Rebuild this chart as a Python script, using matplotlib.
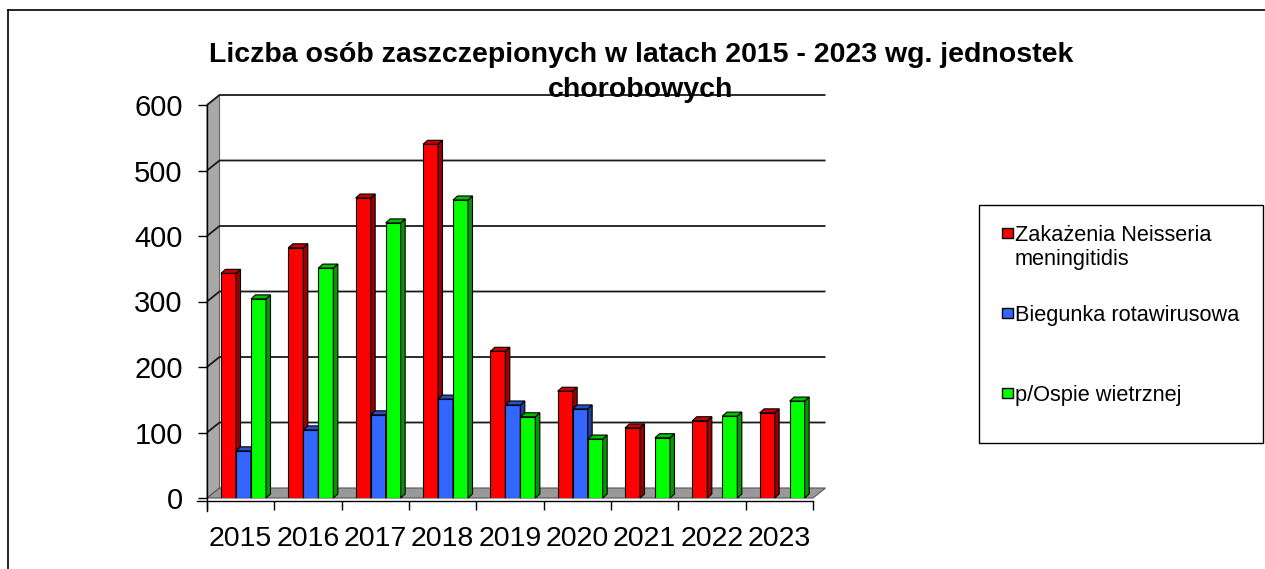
import matplotlib.pyplot as plt
from matplotlib.patches import Polygon, Rectangle
from matplotlib.lines import Line2D

# data
years = ['2015', '2016', '2017', '2018', '2019', '2020', '2021', '2022', '2023']
meningo = [343, 382, 458, 540, 224, 163, 107, 118, 130]
rota = [72, 104, 127, 151, 142, 136, None, None, None]
ospa = [304, 351, 420, 455, 124, 90, 92, 125, 148]
series_names = ['Zakażenia Neisseria\nmeningitidis', 'Biegunka rotawirusowa', 'p/Ospie wietrznej']
title_lines = ['Liczba osób zaszczepionych w latach 2015 - 2023 wg. jednostek', 'chorobowych']
yticks = [0, 100, 200, 300, 400, 500, 600]

# front / side / top colours per series
colors = [('#ff0000', '#990000', '#c80000'),
          ('#3366ff', '#1f3d99', '#2452cc'),
          ('#00ff00', '#009900', '#00c000')]

plt.rcParams['font.family'] = ['Liberation Sans', 'DejaVu Sans']

W, H = 1265, 569
fig = plt.figure(figsize=(W / 100, H / 100), dpi=100)
ax = fig.add_axes([207 / W, 71 / H, 606 / W, 393 / H])
ax.set_xlim(0, len(years))
ax.set_ylim(0, 600)

# pixel -> data helpers
px = len(years) / 606
py = 600 / 393

# 3d depth of the walls / floor and of the bars
wdx, wdy = 12.5 * px, 10 * py
bdx, bdy = 4.5 * px, 4 * py
off, bw = 14 * px, 15 * px

# left wall
ax.add_patch(Polygon([(0, 0), (0, 600), (wdx, 600 + wdy), (wdx, wdy)],
                     facecolor='#a8a8a8', edgecolor='#666666', lw=0.8, zorder=1, clip_on=False))
# floor
n = len(years)
ax.add_patch(Polygon([(0, 0), (n, 0), (n + wdx, wdy), (wdx, wdy)],
                     facecolor='#999999', edgecolor='#555555', lw=0.8, zorder=1.5, clip_on=False))
# gridlines on the back wall
for v in yticks[1:]:
    ax.plot([0, wdx, n + wdx], [v, v + wdy, v + wdy], color='#1a1a1a', lw=1.3,
            zorder=2, clip_on=False, solid_capstyle='butt')

# bars
z = 3
for i in range(n):
    for s, vals in enumerate([meningo, rota, ospa]):
        v = vals[i]
        if v is None:
            continue
        front, side, top = colors[s]
        x0 = i + off + s * bw
        ax.bar(x0, v, width=bw, align='edge', color=front, edgecolor='black', lw=0.8, zorder=z)
        ax.add_patch(Polygon([(x0 + bw, 0), (x0 + bw + bdx, bdy), (x0 + bw + bdx, v + bdy), (x0 + bw, v)],
                             facecolor=side, edgecolor='black', lw=0.8, zorder=z, clip_on=False))
        ax.add_patch(Polygon([(x0, v), (x0 + bw, v), (x0 + bw + bdx, v + bdy), (x0 + bdx, v + bdy)],
                             facecolor=top, edgecolor='black', lw=0.8, zorder=z, clip_on=False))
        z += 0.01

# axes, ticks
for sp in ['top', 'right']:
    ax.spines[sp].set_visible(False)
ax.spines['left'].set_bounds(-13 * py, 600)
ax.spines['bottom'].set_position(('outward', 2.2))
ax.spines['bottom'].set_bounds(-10 * px, n)
for sp in ['left', 'bottom']:
    ax.spines[sp].set_linewidth(1)
    ax.spines[sp].set_zorder(5)

ax.set_yticks(yticks)
ax.tick_params(axis='y', length=6.5, width=1, pad=11, labelsize=21)
ax.set_xticks(range(n + 1))
ax.set_xticklabels([])
ax.set_xticks([i + 0.5 for i in range(n)], minor=True)
ax.set_xticklabels(years, minor=True)
ax.tick_params(axis='x', which='major', length=6.5, width=1)
ax.tick_params(axis='x', which='minor', length=0, pad=18, labelsize=20.5)

# title
fig.text(641 / W, 1 - 62 / H, title_lines[0], ha='center', va='baseline',
         fontsize=20.5, fontweight='bold')
fig.text(641 / W, 1 - 97 / H, title_lines[1], ha='center', va='baseline',
         fontsize=20.5, fontweight='bold')

# legend
fig.add_artist(Rectangle((979 / W, 1 - 443 / H), 284 / W, 238 / H, transform=fig.transFigure,
                         facecolor='white', edgecolor='black', lw=1))
marker_y = [233, 312.5, 392.5]
for s, name in enumerate(series_names):
    yc = marker_y[s]
    fig.add_artist(Rectangle((1002 / W, 1 - (yc + 5) / H), 11 / W, 10 / H, transform=fig.transFigure,
                             facecolor=colors[s][0], edgecolor='black', lw=1))
    for k, line in enumerate(name.split('\n')):
        fig.text(1015 / W, 1 - (yc + 8 + 24.5 * k) / H, line, ha='left', va='baseline', fontsize=15.7)

# outer frame (left and top only)
fig.add_artist(Line2D([8 / W, 8 / W], [0, 1 - 10 / H], transform=fig.transFigure, color='black', lw=1.2))
fig.add_artist(Line2D([8 / W, 1], [1 - 10 / H, 1 - 10 / H], transform=fig.transFigure, color='black', lw=1.2))

fig.savefig('out.png', dpi=100)
